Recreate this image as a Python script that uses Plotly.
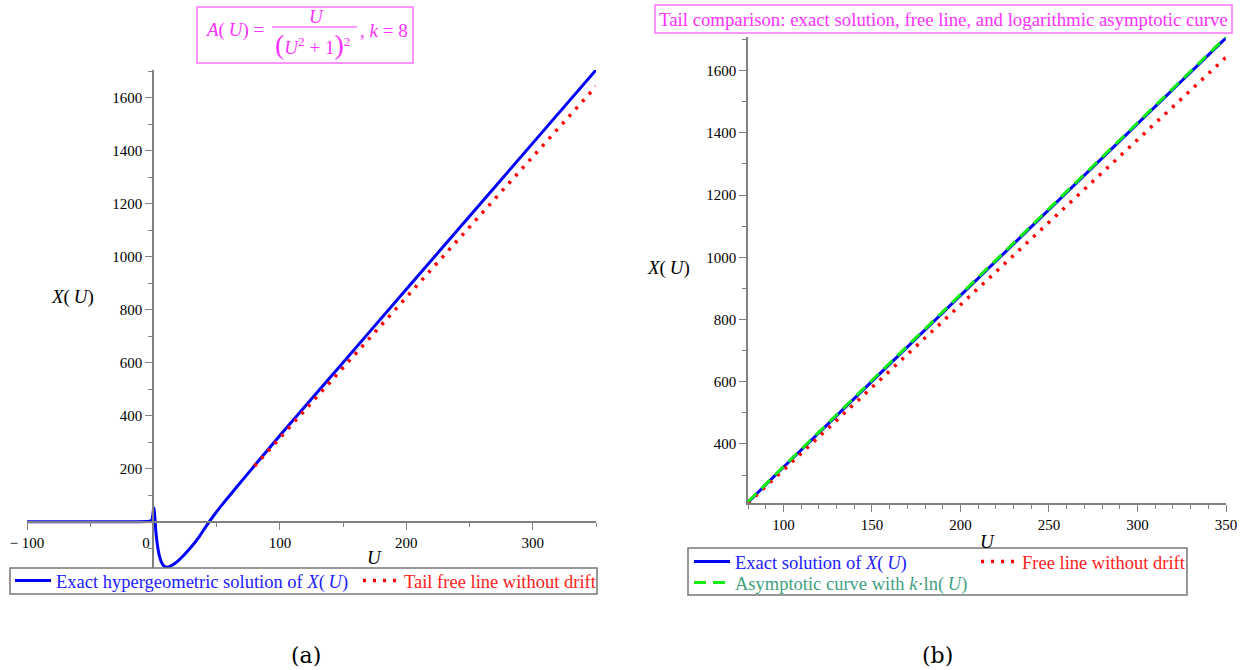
import plotly.graph_objects as go

W, H = 1246, 670

# ---------------- data ----------------
# (a) full exact solution
U_full = [-100, -20, -5, -2, -1, -0.5, 0, 0.3, 0.7, 1.2, 1.8, 2.5, 3.5, 5, 6.5, 8, 10, 12, 15,
          19, 24, 30, 36, 42, 48, 55, 65, 80, 100, 150, 200, 250, 300, 350]
X_full = [0, 0, 0.5, 3, 10, 25, 45, 52, 40, 10, -30, -65, -100, -135, -155, -166, -172, -171, -164,
          -150, -127, -95, -58, -15, 25, 68, 126, 212, 325, 601, 877, 1153, 1429, 1705]

# tail comparison
U_tail = [80, 100, 150, 200, 250, 300, 350]
X_exact_tail = [212, 325, 601, 877, 1153, 1429, 1705]
X_free_tail = [210, 316, 582, 848, 1113, 1378, 1643]
X_asym_tail = [214, 327, 604, 880, 1156, 1432, 1708]

# axis ticks
a_xticks = [-100, 0, 100, 200, 300]
a_xticktext = ["\u2212 100", "0\u00a0\u00a0\u00a0\u00a0", "100", "200", "300"]
a_yticks = [200, 400, 600, 800, 1000, 1200, 1400, 1600]

SERIF = "Liberation Serif"
MAG = "#ff30ff"
MAGBOX = "#ff70ff"
AXC = "#808080"
TS = "\u2009"  # thin space
XU = "<i>X</i>(" + TS + "<i>U</i>)"


def px(x):
    return x / W


def py(y):
    return 1 - y / H


fig = go.Figure()

fig.add_trace(go.Scatter(
    x=U_full, y=X_full, mode="lines", xaxis="x", yaxis="y", legend="legend",
    line=dict(color="#0000ff", width=3, shape="spline", smoothing=0.6),
    name="<span style='color:#2020ff'>Exact hypergeometric solution of " + XU + "</span>"))
fig.add_trace(go.Scatter(
    x=U_tail, y=X_free_tail, mode="lines", xaxis="x", yaxis="y", legend="legend4",
    line=dict(color="#ff0000", width=3.5, dash="3px,7px"),
    name="<span style='color:#ff2020'>Tail free line without drift</span>"))

fig.add_trace(go.Scatter(
    x=U_tail, y=X_exact_tail, mode="lines", xaxis="x2", yaxis="y2", legend="legend2",
    line=dict(color="#0000ff", width=3),
    name="<span style='color:#2020ff'>Exact solution of " + XU + "</span>"))
fig.add_trace(go.Scatter(
    x=U_tail, y=X_free_tail, mode="lines", xaxis="x2", yaxis="y2", legend="legend5",
    line=dict(color="#ff0000", width=3.5, dash="3px,7px"),
    name="<span style='color:#ff2020'>Free line without drift</span>"))
fig.add_trace(go.Scatter(
    x=U_tail, y=X_asym_tail, mode="lines", xaxis="x2", yaxis="y2", legend="legend3",
    line=dict(color="#11ee11", width=3, dash="12px,7px"),
    name="<span style='color:#3f9f7f'>Asymptotic curve with <i>k</i>\u00b7ln(" + TS + "<i>U</i>)</span>"))

tickfont = dict(family=SERIF, size=15, color="black")
common = dict(showline=True, linecolor=AXC, linewidth=1.5, ticks="outside", ticklen=7,
              tickcolor=AXC, tickwidth=1.2, showgrid=False, zeroline=False, tickfont=tickfont)

leg_common = dict(orientation="h", xanchor="left", yanchor="top", bgcolor="rgba(0,0,0,0)",
                  borderwidth=0, font=dict(family=SERIF, size=18.5), itemwidth=36,
                  tracegroupgap=0)

fig.update_layout(
    width=W, height=H, margin=dict(l=0, r=0, t=0, b=0, autoexpand=False),
    paper_bgcolor="white", plot_bgcolor="white", showlegend=True,
    xaxis=dict(domain=[px(27), px(596)], range=[-100, 350], anchor="free", position=py(522),
               tickvals=a_xticks, ticktext=a_xticktext,
               minor=dict(tick0=0, dtick=50, ticklen=4, tickcolor=AXC, ticks="outside"), **common),
    yaxis=dict(domain=[py(568), py(70)], range=[-175, 1705], anchor="free", position=px(153),
               tickvals=a_yticks,
               minor=dict(tick0=0, dtick=100, ticklen=4, tickcolor=AXC, ticks="outside"), **common),
    xaxis2=dict(domain=[px(748), px(1226)], range=[80, 350], anchor="y2", tick0=0, dtick=50,
                minor=dict(tick0=0, dtick=10, ticklen=4, tickcolor=AXC, ticks="outside"), **common),
    yaxis2=dict(domain=[py(503), py(37)], range=[210, 1708], anchor="x2", tick0=0, dtick=200,
                minor=dict(tick0=0, dtick=100, ticklen=4, tickcolor=AXC, ticks="outside"), **common),
    legend=dict(x=px(10), y=py(562), **leg_common),
    legend4=dict(x=px(358), y=py(562), **leg_common),
    legend2=dict(x=px(689), y=py(543), **leg_common),
    legend5=dict(x=px(976), y=py(543), **leg_common),
    legend3=dict(x=px(689), y=py(564), **leg_common),
)

shapes = [
    # legend frames
    dict(type="rect", xref="paper", yref="paper", x0=px(10), x1=px(597), y0=py(594), y1=py(568),
         line=dict(color="#777777", width=1.5)),
    dict(type="rect", xref="paper", yref="paper", x0=px(688), x1=px(1187), y0=py(595), y1=py(548),
         line=dict(color="#777777", width=1.5)),
    # title boxes
    dict(type="rect", xref="paper", yref="paper", x0=px(197), x1=px(413), y0=py(63), y1=py(7),
         line=dict(color=MAGBOX, width=1.5)),
    dict(type="rect", xref="paper", yref="paper", x0=px(655), x1=px(1232), y0=py(33), y1=py(5),
         line=dict(color=MAGBOX, width=1.5)),
    # fraction bar
    dict(type="line", xref="paper", yref="paper", x0=px(272), x1=px(357), y0=py(27), y1=py(27),
         line=dict(color=MAG, width=1.2)),
]

ann = []


def add_text(text, x, y, size=19, color="black", xanchor="center", yanchor="middle", family=SERIF):
    ann.append(dict(text=text, x=px(x), y=py(y), xref="paper", yref="paper", showarrow=False,
                    xanchor=xanchor, yanchor=yanchor,
                    font=dict(family=family, size=size, color=color)))


# (a) title
add_text("<i>A</i>(" + TS + "<i>U</i>) =", 266, 30, 19, MAG, xanchor="right")
add_text("<i>U</i>", 316, 16, 19, MAG)
add_text("<span style='font-size:28px'>(</span><i>U</i><sup>2</sup> + 1<span style='font-size:28px'>)</span><sup>2</sup>",
         312, 44, 19, MAG)
add_text(", <i>k</i> = 8", 358, 30, 19, MAG, xanchor="left")
# (b) title
add_text("Tail comparison: exact solution, free line, and logarithmic asymptotic curve", 943, 19, 18.8, MAG)

# axis labels
add_text(XU, 72, 297, 19)
add_text("<i>U</i>", 374, 557, 19)
add_text(XU, 668, 268, 19)
add_text("<i>U</i>", 987, 541, 19)

# captions
add_text("(a)", 306, 655, 22, family="DejaVu Serif")
add_text("(b)", 938, 655, 22, family="DejaVu Serif")

fig.update_layout(shapes=shapes, annotations=ann)

fig.write_html("out.html")
